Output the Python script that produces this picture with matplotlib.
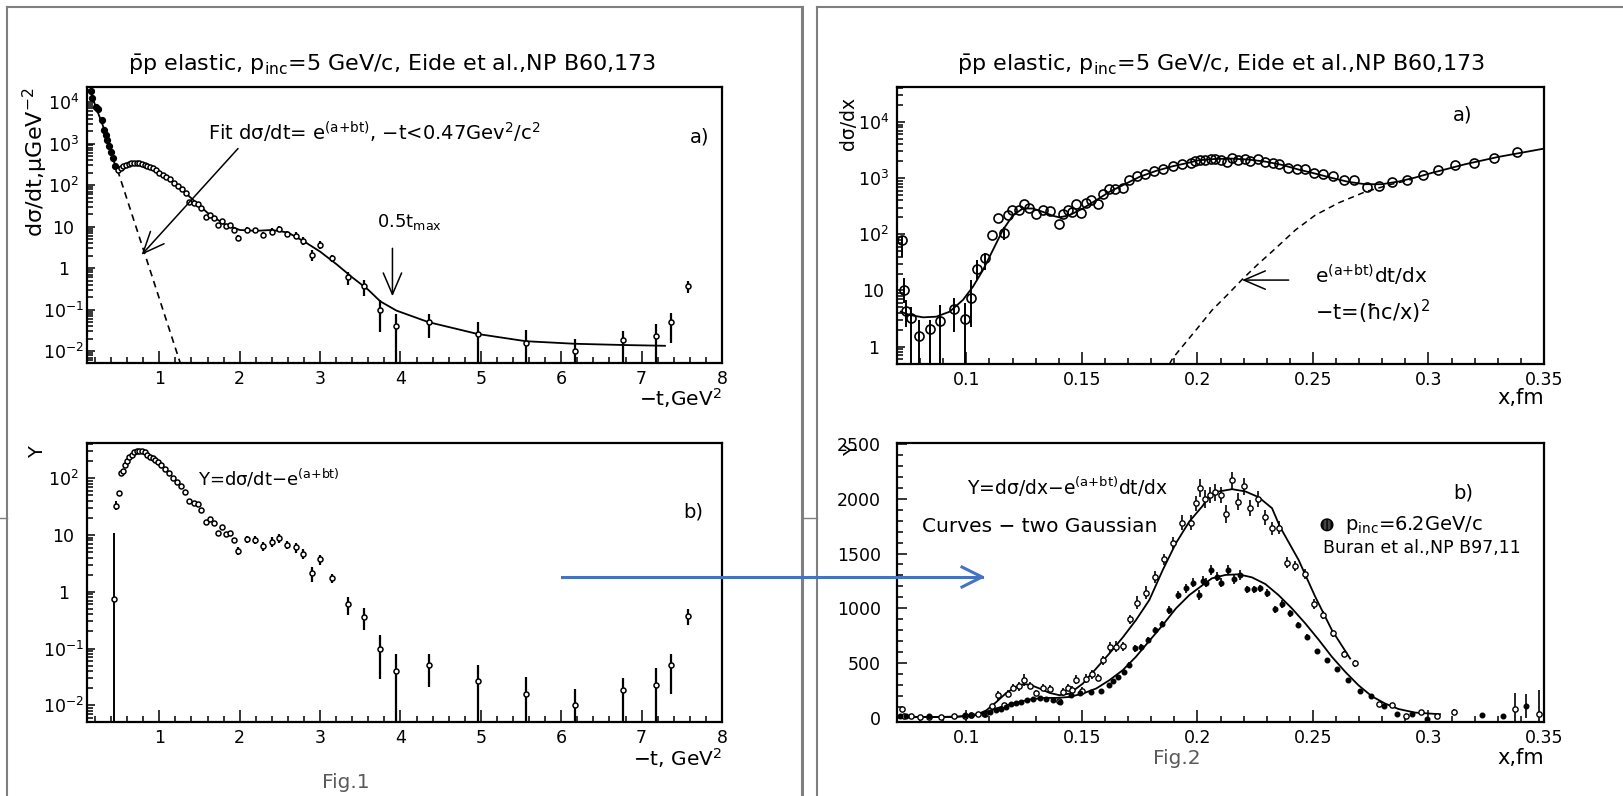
import numpy as np
import matplotlib
matplotlib.use("Agg")
import matplotlib.pyplot as plt
from matplotlib.ticker import FixedLocator, MultipleLocator, LogLocator, NullFormatter
from matplotlib.lines import Line2D

W, H = 1623, 796

# ---------------- Fig.1 a) : dsigma/dt vs -t ----------------
# small -t points (no visible errors)
t_a = [0.146, 0.167, 0.208, 0.242, 0.283, 0.3125, 0.333, 0.354, 0.375, 0.396, 0.425, 0.45,
       0.49, 0.52, 0.55, 0.583, 0.617, 0.65, 0.683, 0.717, 0.75, 0.783, 0.817, 0.85, 0.883,
       0.917, 0.958, 1.0, 1.042, 1.083, 1.133, 1.183, 1.233, 1.283, 1.333]
ds_a = [18400, 12700, 7600, 6700, 3630, 2170, 1640, 1200, 860, 630, 437, 291,
        229, 251, 286, 302, 319, 331, 344, 344, 337, 325, 308, 291, 270,
        251, 225, 198, 177, 158, 137, 114, 96, 82, 63]

# large -t points, the same in a) and b)
t_tail = [1.375, 1.425, 1.479, 1.521, 1.575, 1.625, 1.675, 1.729, 1.775, 1.825, 1.875, 1.929,
          1.979, 2.09, 2.19, 2.29, 2.40, 2.49, 2.59, 2.70, 2.79, 2.90, 3.00, 3.15, 3.35,
          3.55, 3.75, 3.95, 4.35, 4.96, 5.56, 6.17, 6.77, 7.175, 7.37, 7.58]
ds_tail = [40, 37, 35.5, 27.5, 17.2, 18.9, 16.1, 10.7, 14.0, 10.4, 10.7, 8.2,
           5.3, 8.4, 8.2, 6.4, 7.6, 8.7, 6.7, 6.05, 4.6, 2.1, 3.7, 1.72, 0.605,
           0.362, 0.10, 0.0404, 0.0508, 0.0265, 0.0161, 0.010, 0.0184, 0.0232, 0.0508, 0.372]
ds_tail_up = [40, 37, 35.5, 27.5, 17.2, 18.9, 16.1, 10.7, 14.0, 10.4, 10.7, 8.2,
              6.2, 9.6, 9.4, 7.6, 9.1, 10.4, 7.9, 7.3, 5.6, 2.76, 4.4, 2.05, 0.817,
              0.508, 0.172, 0.0794, 0.0794, 0.0508, 0.0316, 0.0197, 0.0308, 0.0462, 0.0817, 0.488]
ds_tail_dn = [40, 37, 35.5, 27.5, 17.2, 18.9, 16.1, 10.7, 14.0, 10.4, 10.7, 8.2,
              4.4, 7.3, 6.9, 5.3, 6.2, 7.3, 5.6, 4.9, 3.7, 1.5, 2.96, 1.40, 0.387,
              0.211, 0.0296, 0.001, 0.0211, 0.001, 0.001, 0.001, 0.001, 0.001, 0.0161, 0.255]

# fit curve
t_fit = [0.146, 0.2, 0.3, 0.4, 0.45, 0.49, 0.55, 0.65, 0.75, 0.85, 1.0, 1.2, 1.4, 1.6, 1.8,
         2.0, 2.2, 2.4, 2.6, 2.8, 3.0, 3.2, 3.4, 3.6, 3.75, 3.95, 4.35, 4.96, 5.56, 6.17, 6.77, 7.29]
ds_fit = [18200, 8510, 2630, 589, 302, 234, 269, 324, 331, 288, 200, 107, 47.9, 21.4, 11.7,
          8.3, 7.9, 8.3, 7.2, 4.4, 2.5, 1.26, 0.60, 0.30, 0.158, 0.095, 0.050, 0.026, 0.0174,
          0.0151, 0.0141, 0.0135]
# exponential e^(a+bt), straight on the log scale
t_exp = [0.48, 1.26]
ds_exp = [230, 0.0052]

# ---------------- Fig.1 b) : Y = dsigma/dt - e^(a+bt) ----------------
t_b = [0.4375, 0.467, 0.5, 0.521, 0.542, 0.567, 0.596, 0.625, 0.654, 0.683, 0.717, 0.75,
       0.783, 0.817, 0.85, 0.883, 0.917, 0.95, 0.983, 1.025, 1.075, 1.125, 1.175, 1.225,
       1.275, 1.321]
y_b = [0.76, 32.5, 54, 122, 136, 172, 197, 235, 258, 288, 295, 303,
       295, 283, 258, 240, 225, 209, 190, 172, 144, 123, 100, 86, 73, 58]
y_b_up = [10.7, 39, 60, 122, 136, 172, 197, 235, 258, 288, 295, 303,
          295, 283, 258, 240, 225, 209, 190, 172, 144, 123, 100, 86, 73, 58]
y_b_dn = [0.001, 27.5, 48, 122, 136, 172, 197, 235, 258, 288, 295, 303,
          295, 283, 258, 240, 225, 209, 190, 172, 144, 123, 100, 86, 73, 58]

# ---------------- Fig.2 a) : dsigma/dx vs x ----------------
x_c = [0.0723, 0.0730, 0.0737, 0.0761, 0.0797, 0.0841, 0.0888, 0.0946, 0.0995, 0.1021,
       0.1047, 0.1081, 0.1112, 0.1138, 0.1161, 0.1180, 0.1198, 0.1226, 0.1249, 0.1273,
       0.1302, 0.1331, 0.1364, 0.1400, 0.1417, 0.1439, 0.1456, 0.1475, 0.1496, 0.1518,
       0.1540, 0.1568, 0.1590, 0.1616, 0.1645, 0.1677, 0.1705, 0.1738, 0.1774, 0.1813,
       0.1852, 0.1893, 0.1933, 0.1972, 0.1991, 0.2011, 0.2035, 0.2057, 0.2078, 0.2100,
       0.2128, 0.2150, 0.2176, 0.2205, 0.2229, 0.2262, 0.2291, 0.2326, 0.2354, 0.2392,
       0.2431, 0.2464, 0.2503, 0.2542, 0.2585, 0.2633, 0.2679, 0.2734, 0.2784, 0.2842,
       0.2907, 0.2975, 0.3041, 0.3116, 0.3195, 0.3282, 0.3383]
dsdx_c = [78.8, 10.2, 4.37, 3.19, 1.55, 2.09, 2.86, 4.61, 3.15, 7.23,
          23.7, 37.2, 96.7, 199, 106, 219, 276, 276, 353, 300,
          228, 276, 262, 150, 228, 269, 251, 344, 244, 363,
          405, 353, 532, 653, 653, 671, 918, 1081, 1175, 1327,
          1479, 1629, 1766, 1866, 2028, 2140, 2140, 2228, 2228, 2140,
          1945, 2323, 2084, 2228, 2028, 2168, 1945, 1866, 1816, 1521,
          1479, 1479, 1239, 1175, 1081, 918, 918, 699, 718, 857,
          918, 1158, 1383, 1698, 1866, 2323, 2930]
# error bar ends for the small-x points (first 15)
dsdx_c_up = [95, 16.4, 6.75, 5.15, 2.98, 2.98, 5.5, 7.25, 5.9, 15.3, 34.7, 45.6, 96.7, 199, 136]
dsdx_c_dn = [40, 5.9, 2.27, 0.3, 0.3, 0.3, 0.3, 1.85, 0.3, 2.27, 15.3, 23.1, 96.7, 199, 78.5]

x_cfit = [0.0716, 0.0755, 0.0813, 0.0870, 0.0928, 0.0985, 0.1029, 0.1072, 0.1115, 0.1158,
          0.1202, 0.1245, 0.1288, 0.1331, 0.1374, 0.1403, 0.1447, 0.1504, 0.1562, 0.1619,
          0.1677, 0.1749, 0.1821, 0.1893, 0.1965, 0.2006, 0.2078, 0.2150, 0.2222, 0.2294,
          0.2366, 0.2438, 0.2510, 0.2582, 0.2654, 0.2726, 0.2798, 0.2870, 0.2942, 0.3014,
          0.3158, 0.3302, 0.35]
dsdx_cfit = [4.19, 3.66, 3.32, 3.41, 4.19, 6.76, 11.7, 23.1, 52.4, 119,
             219, 288, 288, 251, 214, 200, 219, 288, 405, 570,
             748, 1052, 1346, 1629, 1892, 2084, 2198, 2228, 2138, 1972,
             1722, 1422, 1205, 1009, 857, 780, 780, 869, 1023, 1239,
             1766, 2388, 3357]
# e^(a+bt) dt/dx
x_cexp = [0.1879, 0.1893, 0.2006, 0.2064, 0.2129, 0.2194, 0.2258, 0.2338, 0.2424, 0.2510,
          0.2611, 0.2726, 0.2841, 0.2928]
dsdx_cexp = [0.49, 0.62, 2.27, 4.49, 8.3, 15.7, 28.3, 56, 119, 219,
             363, 570, 780, 944]

# ---------------- Fig.2 b) : Y = dsigma/dx - e^(a+bt)dt/dx ----------------
x_d = [0.0723, 0.0730, 0.0760, 0.0798, 0.0840, 0.0889, 0.0946, 0.0995, 0.1020, 0.1050,
       0.1080, 0.1112, 0.1138, 0.1161, 0.1180, 0.1200, 0.1226, 0.1249, 0.1274, 0.1302,
       0.1331, 0.1364, 0.1400, 0.1418, 0.1440, 0.1457, 0.1476, 0.1500, 0.1519, 0.1543,
       0.1570, 0.1590, 0.1620, 0.1649, 0.1678, 0.1707, 0.1740, 0.1776, 0.1815, 0.1854,
       0.1895, 0.1935, 0.1974, 0.1993, 0.2013, 0.2032, 0.2056, 0.2078, 0.2100, 0.2124,
       0.2150, 0.2176, 0.2203, 0.2229, 0.2261, 0.2291, 0.2323, 0.2354, 0.2389, 0.2423,
       0.2464, 0.2503, 0.2543, 0.2586, 0.2633, 0.2680, 0.2785, 0.2843, 0.2903, 0.2968,
       0.3037, 0.3112, 0.3376, 0.3480]
y_d = [82, 12, 12, 6, 6, 6, 12, 15, 21, 30,
       37, 104, 205, 113, 220, 275, 287, 348, 293, 226,
       275, 266, 153, 235, 275, 256, 348, 244, 357, 397,
       366, 525, 641, 647, 653, 898, 1050, 1142, 1288, 1447,
       1600, 1783, 1783, 1960, 2097, 1997, 2036, 2058, 2036, 1862,
       2168, 1975, 2113, 1914, 1997, 1832, 1731, 1737, 1417, 1386,
       1310, 1038, 937, 769, 580, 495, 122, 119, 12, 52,
       12, 52, 82, 30]
y_d_err = [0, 0, 0, 0, 0, 0, 0, 0, 0, 0,
           0, 15, 40, 20, 35, 35, 40, 55, 35, 30,
           30, 30, 20, 35, 35, 30, 40, 35, 40, 40,
           35, 40, 50, 50, 40, 40, 60, 60, 55, 50,
           55, 70, 70, 70, 80, 80, 75, 75, 75, 80,
           80, 75, 80, 75, 70, 70, 60, 60, 50, 50,
           45, 45, 40, 35, 30, 30, 15, 15, 15, 20,
           15, 25, 140, 220]

# p_inc = 6.2 GeV/c, Buran et al.
x_e = [0.0715, 0.0738, 0.0840, 0.0996, 0.1020, 0.1077, 0.1101, 0.1127, 0.1152, 0.1173,
       0.1195, 0.1216, 0.1238, 0.1262, 0.1288, 0.1320, 0.1346, 0.1375, 0.1407, 0.1451,
       0.1493, 0.1540, 0.1584, 0.1617, 0.1634, 0.1656, 0.1682, 0.1706, 0.1731, 0.1757,
       0.1786, 0.1817, 0.1847, 0.1879, 0.1915, 0.1951, 0.1983, 0.2006, 0.2023, 0.2037,
       0.2061, 0.2084, 0.2104, 0.2133, 0.2159, 0.2185, 0.2214, 0.2243, 0.2272, 0.2303,
       0.2335, 0.2368, 0.2401, 0.2436, 0.2476, 0.2516, 0.2559, 0.2605, 0.2651, 0.2702,
       0.2752, 0.2807, 0.2864, 0.2929, 0.2994, 0.3232, 0.3322, 0.3423]
y_e = [12, 12, 12, 21, 21, 37, 52, 67, 82, 98,
       122, 134, 143, 159, 174, 183, 174, 165, 143, 205,
       226, 235, 244, 296, 336, 372, 418, 479, 632, 641,
       708, 800, 855, 983, 1120, 1181, 1233, 1120, 1252, 1233,
       1349, 1288, 1233, 1349, 1264, 1304, 1172, 1172, 1181, 1142,
       989, 1038, 953, 846, 739, 611, 531, 440, 348, 244,
       195, 104, 37, 30, -9, 27, 12, 104]
y_e_err = [5, 5, 5, 20, 5, 10, 10, 10, 10, 10,
           10, 10, 10, 10, 10, 10, 10, 10, 10, 15,
           15, 15, 15, 25, 20, 20, 25, 25, 35, 35,
           25, 25, 30, 35, 35, 40, 40, 45, 40, 40,
           45, 40, 40, 45, 40, 45, 35, 35, 35, 35,
           35, 35, 30, 30, 25, 20, 15, 15, 15, 15,
           15, 10, 10, 10, 10, 15, 25, 110]

# two-Gaussian curves
x_dfit = [0.0712, 0.0885, 0.1000, 0.1043, 0.1087, 0.1130, 0.1173, 0.1216, 0.1245, 0.1274,
          0.1317, 0.1360, 0.1403, 0.1447, 0.1504, 0.1562, 0.1619, 0.1677, 0.1734, 0.1792,
          0.1850, 0.1907, 0.1965, 0.2023, 0.2049, 0.2092, 0.2150, 0.2208, 0.2265, 0.2323,
          0.2357, 0.2438, 0.2510, 0.2582, 0.2661]
y_dfit = [6, 6, 12, 24, 67, 143, 226, 281, 305, 302,
          266, 226, 205, 220, 311, 449, 586, 733, 891, 1075,
          1349, 1594, 1792, 1936, 2021, 2067, 2088, 2067, 2015, 1914,
          1746, 1441, 1105, 800, 540]
x_efit = [0.0712, 0.0957, 0.1043, 0.1101, 0.1158, 0.1216, 0.1274, 0.1331, 0.1389, 0.1447,
          0.1504, 0.1562, 0.1619, 0.1677, 0.1734, 0.1792, 0.1850, 0.1907, 0.1965, 0.2023,
          0.2063, 0.2121, 0.2178, 0.2236, 0.2294, 0.2351, 0.2409, 0.2467, 0.2524, 0.2582,
          0.2640, 0.2697, 0.2755, 0.2813, 0.2870, 0.2942, 0.3050]
y_efit = [6, 6, 31, 61, 104, 137, 165, 180, 180, 189,
          220, 266, 342, 434, 556, 702, 846, 998, 1120, 1212,
          1273, 1304, 1310, 1282, 1221, 1120, 998, 861, 714, 556,
          418, 296, 195, 128, 79, 46, 31]


def box(x0, y0, x1, y1):
    # pixel box, origin at top left -> figure rect
    return [x0 / W, 1 - y1 / H, (x1 - x0) / W, (y1 - y0) / H]


def fp(x, y):
    return x / W, 1 - y / H


def frame(ax):
    for s in ax.spines.values():
        s.set_linewidth(1.6)
    ax.tick_params(which='both', direction='in', top=False, right=False,
                   labelsize=12.5, width=1.1)
    ax.tick_params(axis='x', which='major', length=9, pad=5)
    ax.tick_params(axis='x', which='minor', length=4.5)


def log_y(ax, lo, hi, decades):
    ax.set_yscale('log')
    ax.set_ylim(lo, hi)
    labels = []
    for d in decades:
        if d == 0:
            labels.append('1')
        elif d == 1:
            labels.append('10')
        else:
            labels.append('$10^{%d}$' % d)
    ax.set_yticks([10.0 ** d for d in decades], labels, ha='center')
    ax.yaxis.set_minor_locator(LogLocator(base=10, subs=np.arange(2, 10), numticks=30))
    ax.yaxis.set_minor_formatter(NullFormatter())
    ax.tick_params(axis='y', which='major', length=6, pad=17)
    ax.tick_params(axis='y', which='minor', length=4)


fig = plt.figure(figsize=(W / 100, H / 100), dpi=100)

# page frames
gray = '#7f7f7f'
for xs, ys, lw in [([7, 7], [7, 796], 1.5), ([7, 802], [7, 7], 1.5), ([802, 802], [7, 796], 2.2),
                   ([817, 817], [7, 796], 1.5), ([817, 1623], [7, 7], 1.5),
                   ([0, 7], [518, 518], 1.0), ([802, 817], [518, 518], 1.0)]:
    fig.add_artist(Line2D([x / W for x in xs], [1 - y / H for y in ys],
                          transform=fig.transFigure, color=gray, lw=lw))

arrow_kw = dict(arrowstyle='->,head_length=0.7,head_width=0.3', lw=1.1, color='black',
                mutation_scale=22, shrinkA=0, shrinkB=0)
title = r'$\bar{\mathrm{p}}$p elastic, p$_{\mathrm{inc}}$=5 GeV/c, Eide et al.,NP B60,173'
expo = r'e$^{(\mathrm{a{+}bt})}$'

# ---- Fig.1 a)
ax1 = fig.add_axes(box(87, 87, 722, 363))
frame(ax1)
ax1.plot(t_fit, ds_fit, color='black', lw=1.3)
ax1.plot(t_exp, ds_exp, color='black', lw=1.2, ls=(0, (4, 3)))
ax1.vlines(t_tail, ds_tail_dn, ds_tail_up, color='black', lw=1.6)
ax1.plot(t_a[:12], ds_a[:12], 'o', ms=4.2, mfc='black', mec='black')
ax1.plot(t_a[12:], ds_a[12:], 'o', ms=3.6, mfc='white', mec='black', mew=1.1)
ax1.plot(t_tail, ds_tail, 'o', ms=3.6, mfc='white', mec='black', mew=1.1)
ax1.set_xlim(0.1, 8)
ax1.xaxis.set_major_locator(FixedLocator(range(1, 9)))
ax1.xaxis.set_minor_locator(MultipleLocator(0.2))
log_y(ax1, 0.0052, 2.3e4, range(-2, 5))
ax1.annotate('', xy=(0.779, 2.09), xytext=(1.979, 759), arrowprops=arrow_kw)
ax1.annotate('', xy=(3.9, 0.21), xytext=(3.9, 3.0), arrowprops=arrow_kw)
fig.text(*fp(392, 65), title, ha='center', va='center', fontsize=16)
fig.text(*fp(208, 132), 'Fit dσ/dt= ' + expo + r', −t<0.47Gev$^{2}$/c$^{2}$',
         ha='left', va='center', fontsize=14)
fig.text(*fp(690, 137), 'a)', ha='left', va='center', fontsize=14)
fig.text(*fp(377, 222), r'0.5t$_{\mathrm{max}}$', ha='left', va='center', fontsize=13)
fig.text(*fp(35, 88), r'dσ/dt,μGeV$^{-2}$', rotation=90, ha='center', va='top', fontsize=16)
fig.text(*fp(722, 398), r'−t,GeV$^{2}$', ha='right', va='center', fontsize=14.5)

# ---- Fig.1 b)
ax2 = fig.add_axes(box(87, 443, 722, 722))
frame(ax2)
ax2.vlines(t_b, y_b_dn, y_b_up, color='black', lw=1.4)
ax2.vlines(t_tail, ds_tail_dn, ds_tail_up, color='black', lw=1.6)
ax2.plot(t_b, y_b, 'o', ms=3.6, mfc='white', mec='black', mew=1.1)
ax2.plot(t_tail, ds_tail, 'o', ms=3.6, mfc='white', mec='black', mew=1.1)
ax2.set_xlim(0.1, 8)
ax2.xaxis.set_major_locator(FixedLocator(range(1, 9)))
ax2.xaxis.set_minor_locator(MultipleLocator(0.2))
log_y(ax2, 0.0051, 415, range(-2, 3))
fig.text(*fp(38, 452), 'Y', rotation=90, ha='center', va='center', fontsize=14)
fig.text(*fp(198, 478), 'Y=dσ/dt−' + expo, ha='left', va='center', fontsize=13)
fig.text(*fp(683, 512), 'b)', ha='left', va='center', fontsize=14)
fig.text(*fp(722, 758), r'−t, GeV$^{2}$', ha='right', va='center', fontsize=14.5)
fig.text(*fp(322, 782), 'Fig.1', ha='left', va='center', fontsize=14.5, color='#5a5a5a')

# ---- Fig.2 a)
ax3 = fig.add_axes(box(897, 87, 1544, 364))
frame(ax3)
ax3.plot(x_cfit, dsdx_cfit, color='black', lw=1.3)
ax3.plot(x_cexp, dsdx_cexp, color='black', lw=1.1, ls=(0, (4, 3)))
ax3.vlines(x_c[:15], dsdx_c_dn, dsdx_c_up, color='black', lw=1.4)
ax3.plot(x_c, dsdx_c, 'o', ms=6.5, mfc='none', mec='black', mew=1.2)
ax3.set_xlim(0.07, 0.35)
xt = [0.1, 0.15, 0.2, 0.25, 0.3, 0.35]
ax3.set_xticks(xt, ['0.1', '0.15', '0.2', '0.25', '0.3', '0.35'])
ax3.xaxis.set_minor_locator(MultipleLocator(0.01))
log_y(ax3, 0.49, 4.2e4, range(0, 5))
ax3.annotate('', xy=(0.2193, 15.3), xytext=(0.2395, 15.3), arrowprops=arrow_kw)
fig.text(*fp(1221, 65), title, ha='center', va='center', fontsize=16)
fig.text(*fp(1453, 115), 'a)', ha='left', va='center', fontsize=14)
fig.text(*fp(1315, 275), expo + 'dt/dx', ha='left', va='center', fontsize=14.5)
fig.text(*fp(1315, 312), r'−t=(ħc/x)$^{2}$', ha='left', va='center', fontsize=15)
fig.text(*fp(849, 97), 'dσ/dx', rotation=90, ha='center', va='top', fontsize=13.5)
fig.text(*fp(1544, 398), 'x,fm', ha='right', va='center', fontsize=15)

# ---- Fig.2 b)
ax4 = fig.add_axes(box(897, 443, 1544, 722))
frame(ax4)
ax4.plot(x_dfit, y_dfit, color='black', lw=1.3)
ax4.plot(x_efit, y_efit, color='black', lw=1.3)
ax4.errorbar(x_d, y_d, yerr=y_d_err, fmt='o', ms=3.8, mfc='white', mec='black', mew=1.0,
             ecolor='black', elinewidth=1.2, capsize=0)
ax4.errorbar(x_e, y_e, yerr=y_e_err, fmt='o', ms=3.3, mfc='black', mec='black',
             ecolor='black', elinewidth=1.2, capsize=0)
ax4.set_xlim(0.07, 0.35)
ax4.set_xticks(xt, ['0.1', '0.15', '0.2', '0.25', '0.3', '0.35'])
ax4.xaxis.set_minor_locator(MultipleLocator(0.01))
ax4.set_ylim(-40, 2510)
ax4.yaxis.set_major_locator(MultipleLocator(500))
ax4.yaxis.set_minor_locator(MultipleLocator(100))
ax4.tick_params(axis='y', which='major', length=7, pad=11.5)
ax4.tick_params(axis='y', which='minor', length=4)
# legend symbol for the 6.2 GeV/c data
ax4.scatter([0.2561], [1762], s=70, facecolor='#444444', edgecolor='black', hatch='||||',
            lw=1.0, clip_on=False)
fig.text(*fp(853, 450), 'Y', rotation=90, ha='center', va='center', fontsize=14)
fig.text(*fp(967, 487), 'Y=dσ/dx−' + expo + 'dt/dx', ha='left', va='center', fontsize=13.5)
fig.text(*fp(922, 526), 'Curves − two Gaussian', ha='left', va='center', fontsize=14.5)
fig.text(*fp(1453, 493), 'b)', ha='left', va='center', fontsize=14)
fig.text(*fp(1345, 525), r'p$_{\mathrm{inc}}$=6.2GeV/c', ha='left', va='center', fontsize=14)
fig.text(*fp(1323, 548), 'Buran et al.,NP B97,11', ha='left', va='center', fontsize=12.5)
fig.text(*fp(1544, 758), 'x,fm', ha='right', va='center', fontsize=15)
fig.text(*fp(1153, 758), 'Fig.2', ha='left', va='center', fontsize=14.5, color='#5a5a5a')

# connecting arrow between the two figures
blue = '#4472C4'
for xs, ys in [([562, 982], [577, 577]), ([962, 982, 962], [567, 577, 587])]:
    fig.add_artist(Line2D([x / W for x in xs], [1 - y / H for y in ys],
                          transform=fig.transFigure, color=blue, lw=2.2))

fig.savefig('out.png', dpi=100)
